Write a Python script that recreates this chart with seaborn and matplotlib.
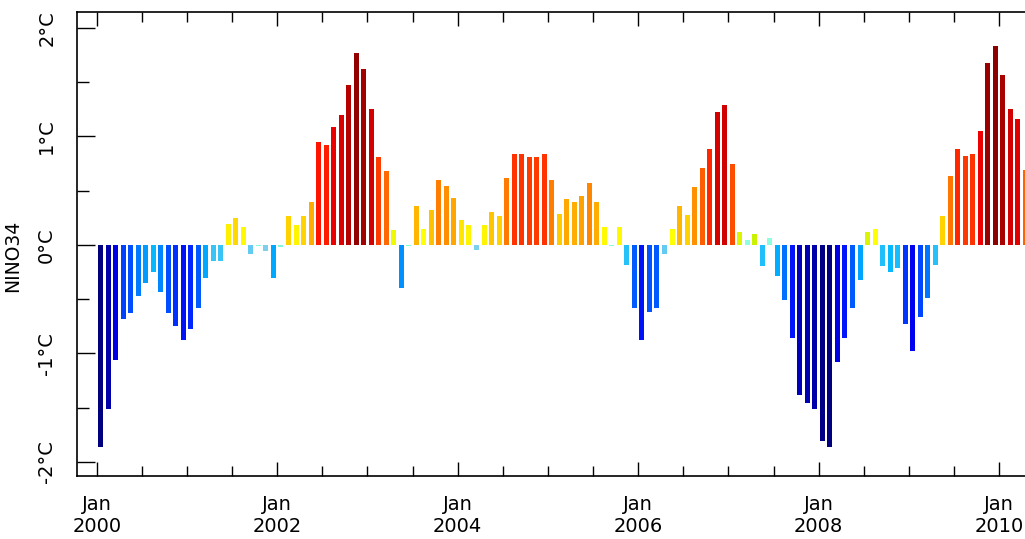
import numpy as np
import pandas as pd
import matplotlib
matplotlib.use("Agg")
import matplotlib.pyplot as plt
from matplotlib.colors import LinearSegmentedColormap, Normalize, to_hex
import seaborn as sns

# ---------------- data ----------------
start_month = "2000-01"
nino34 = [
    -1.86, -1.51, -1.06, -0.68, -0.63, -0.47, -0.35, -0.25, -0.43, -0.63, -0.75, -0.88,   # 2000
    -0.77, -0.58, -0.30, -0.15, -0.15, 0.19, 0.25, 0.17, -0.08, -0.01, -0.06, -0.30,       # 2001
    -0.02, 0.27, 0.18, 0.27, 0.40, 0.95, 0.92, 1.09, 1.20, 1.47, 1.77, 1.62,               # 2002
    1.25, 0.81, 0.68, 0.14, -0.40, -0.01, 0.36, 0.15, 0.32, 0.60, 0.54, 0.43,              # 2003
    0.23, 0.18, -0.05, 0.18, 0.30, 0.27, 0.62, 0.84, 0.84, 0.81, 0.81, 0.84,               # 2004
    0.60, 0.29, 0.42, 0.40, 0.45, 0.57, 0.40, 0.17, -0.01, 0.17, -0.18, -0.58,             # 2005
    -0.88, -0.62, -0.58, -0.08, 0.15, 0.36, 0.28, 0.53, 0.71, 0.88, 1.23, 1.29,            # 2006
    0.75, 0.12, 0.05, 0.10, -0.19, 0.06, -0.29, -0.51, -0.86, -1.38, -1.46, -1.51,         # 2007
    -1.81, -1.86, -1.08, -0.86, -0.58, -0.32, 0.12, 0.15, -0.19, -0.25, -0.21, -0.73,      # 2008
    -0.98, -0.66, -0.49, -0.18, 0.27, 0.64, 0.88, 0.82, 0.84, 1.05, 1.68, 1.83,            # 2009
    1.57, 1.25, 1.16, 0.69,                                                                # 2010
]
label_years = [2000, 2002, 2004, 2006, 2008, 2010]
y_ticks = [-2, -1, 0, 1, 2]
y_tick_labels = ["-2°C", "-1°C", "0°C", "1°C", "2°C"]
y_label = "NINO34"

months = pd.date_range(start_month, periods=len(nino34), freq="MS").strftime("%Y-%m").tolist()
df = pd.DataFrame({"month": months, "value": nino34})

# ---------------- colours: value-driven rainbow ----------------
nodes = [
    (-2.0, "#000070"), (-1.8, "#000088"), (-1.4, "#0000B8"), (-1.0, "#0000EE"),
    (-0.8, "#0020FF"), (-0.6, "#0058FF"), (-0.4, "#0090FF"), (-0.25, "#00B8FF"),
    (-0.12, "#48C8F4"), (-0.04, "#88D0EC"), (-0.02, "#80FFD8"), (0.07, "#90FFE0"),
    (0.10, "#C8F000"), (0.15, "#FFFF00"), (0.22, "#FFE800"), (0.30, "#FFC800"),
    (0.42, "#FFA800"), (0.55, "#FF8C00"), (0.68, "#FF6A00"), (0.82, "#FF3800"),
    (0.95, "#FF1400"), (1.05, "#F00000"), (1.25, "#D40000"), (1.5, "#B40000"),
    (1.7, "#980000"), (2.0, "#800000"),
]
vmin, vmax = -2.0, 2.0
cmap = LinearSegmentedColormap.from_list(
    "nino", [((v - vmin) / (vmax - vmin), c) for v, c in nodes])
norm = Normalize(vmin, vmax)
palette = {m: to_hex(cmap(norm(v))) for m, v in zip(months, nino34)}

# ---------------- figure ----------------
sns.set_style("white")
plt.rcParams["font.family"] = ["DejaVu Sans"]
plt.rcParams["text.color"] = "black"
plt.rcParams["axes.labelcolor"] = "black"
plt.rcParams["xtick.color"] = "black"
plt.rcParams["ytick.color"] = "black"

W, H = 1025, 539
fig = plt.figure(figsize=(W / 100, H / 100), dpi=100)
ax_left, ax_right, ax_top, ax_bottom = 77, 1100, 12, 476
ax = fig.add_axes([ax_left / W, (H - ax_bottom) / H,
                   (ax_right - ax_left) / W, (ax_bottom - ax_top) / H])

sns.barplot(data=df, x="month", y="value", hue="month", palette=palette,
            legend=False, width=0.66, saturation=1, ax=ax, linewidth=0)

# limits (pixel geometry of the reference: bar pitch 7.52 px, first bar centre at x=100.5)
pitch, first_centre = 7.52, 100.5
ax.set_xlim((ax_left - first_centre) / pitch, (ax_right - first_centre) / pitch)
ax.set_ylim(-2.129, 2.147)

# x ticks: majors at Jan of even years, minors every 6 months (month boundaries)
n = len(months)
major_pos = [(y - 2000) * 12 - 0.5 for y in label_years]
minor_pos = [k - 0.5 for k in range(0, n + 12, 6)]
ax.set_xticks(major_pos)
ax.set_xticklabels([f"Jan\n{y}" for y in label_years])
ax.set_xticks(minor_pos, minor=True)

ax.set_yticks(y_ticks)
ax.set_yticklabels(y_tick_labels, rotation=90, va="center")
ax.set_yticks([-1.5, -0.5, 0.5, 1.5], minor=True)

ax.tick_params(axis="x", which="both", direction="in", top=True, bottom=True,
               width=1.0, color="black", labelcolor="black", labelsize=14, pad=14)
ax.tick_params(axis="x", which="major", length=10)
ax.tick_params(axis="x", which="minor", length=7)
ax.tick_params(axis="y", which="both", direction="in", left=True, right=False,
               width=1.0, color="black", labelcolor="black", labelsize=14, pad=15)
ax.tick_params(axis="y", which="major", length=13)
ax.tick_params(axis="y", which="minor", length=8.6)

for s in ax.spines.values():
    s.set_visible(True)
    s.set_color("black")
    s.set_linewidth(1.2)

ax.set_xlabel("")
ax.set_ylabel(y_label, fontsize=13.5, rotation=90, color="black")
ax.yaxis.set_label_coords((22 - ax_left) / (ax_right - ax_left),
                          (ax_bottom - 256) / (ax_bottom - ax_top))

fig.savefig("out.png", dpi=100)
